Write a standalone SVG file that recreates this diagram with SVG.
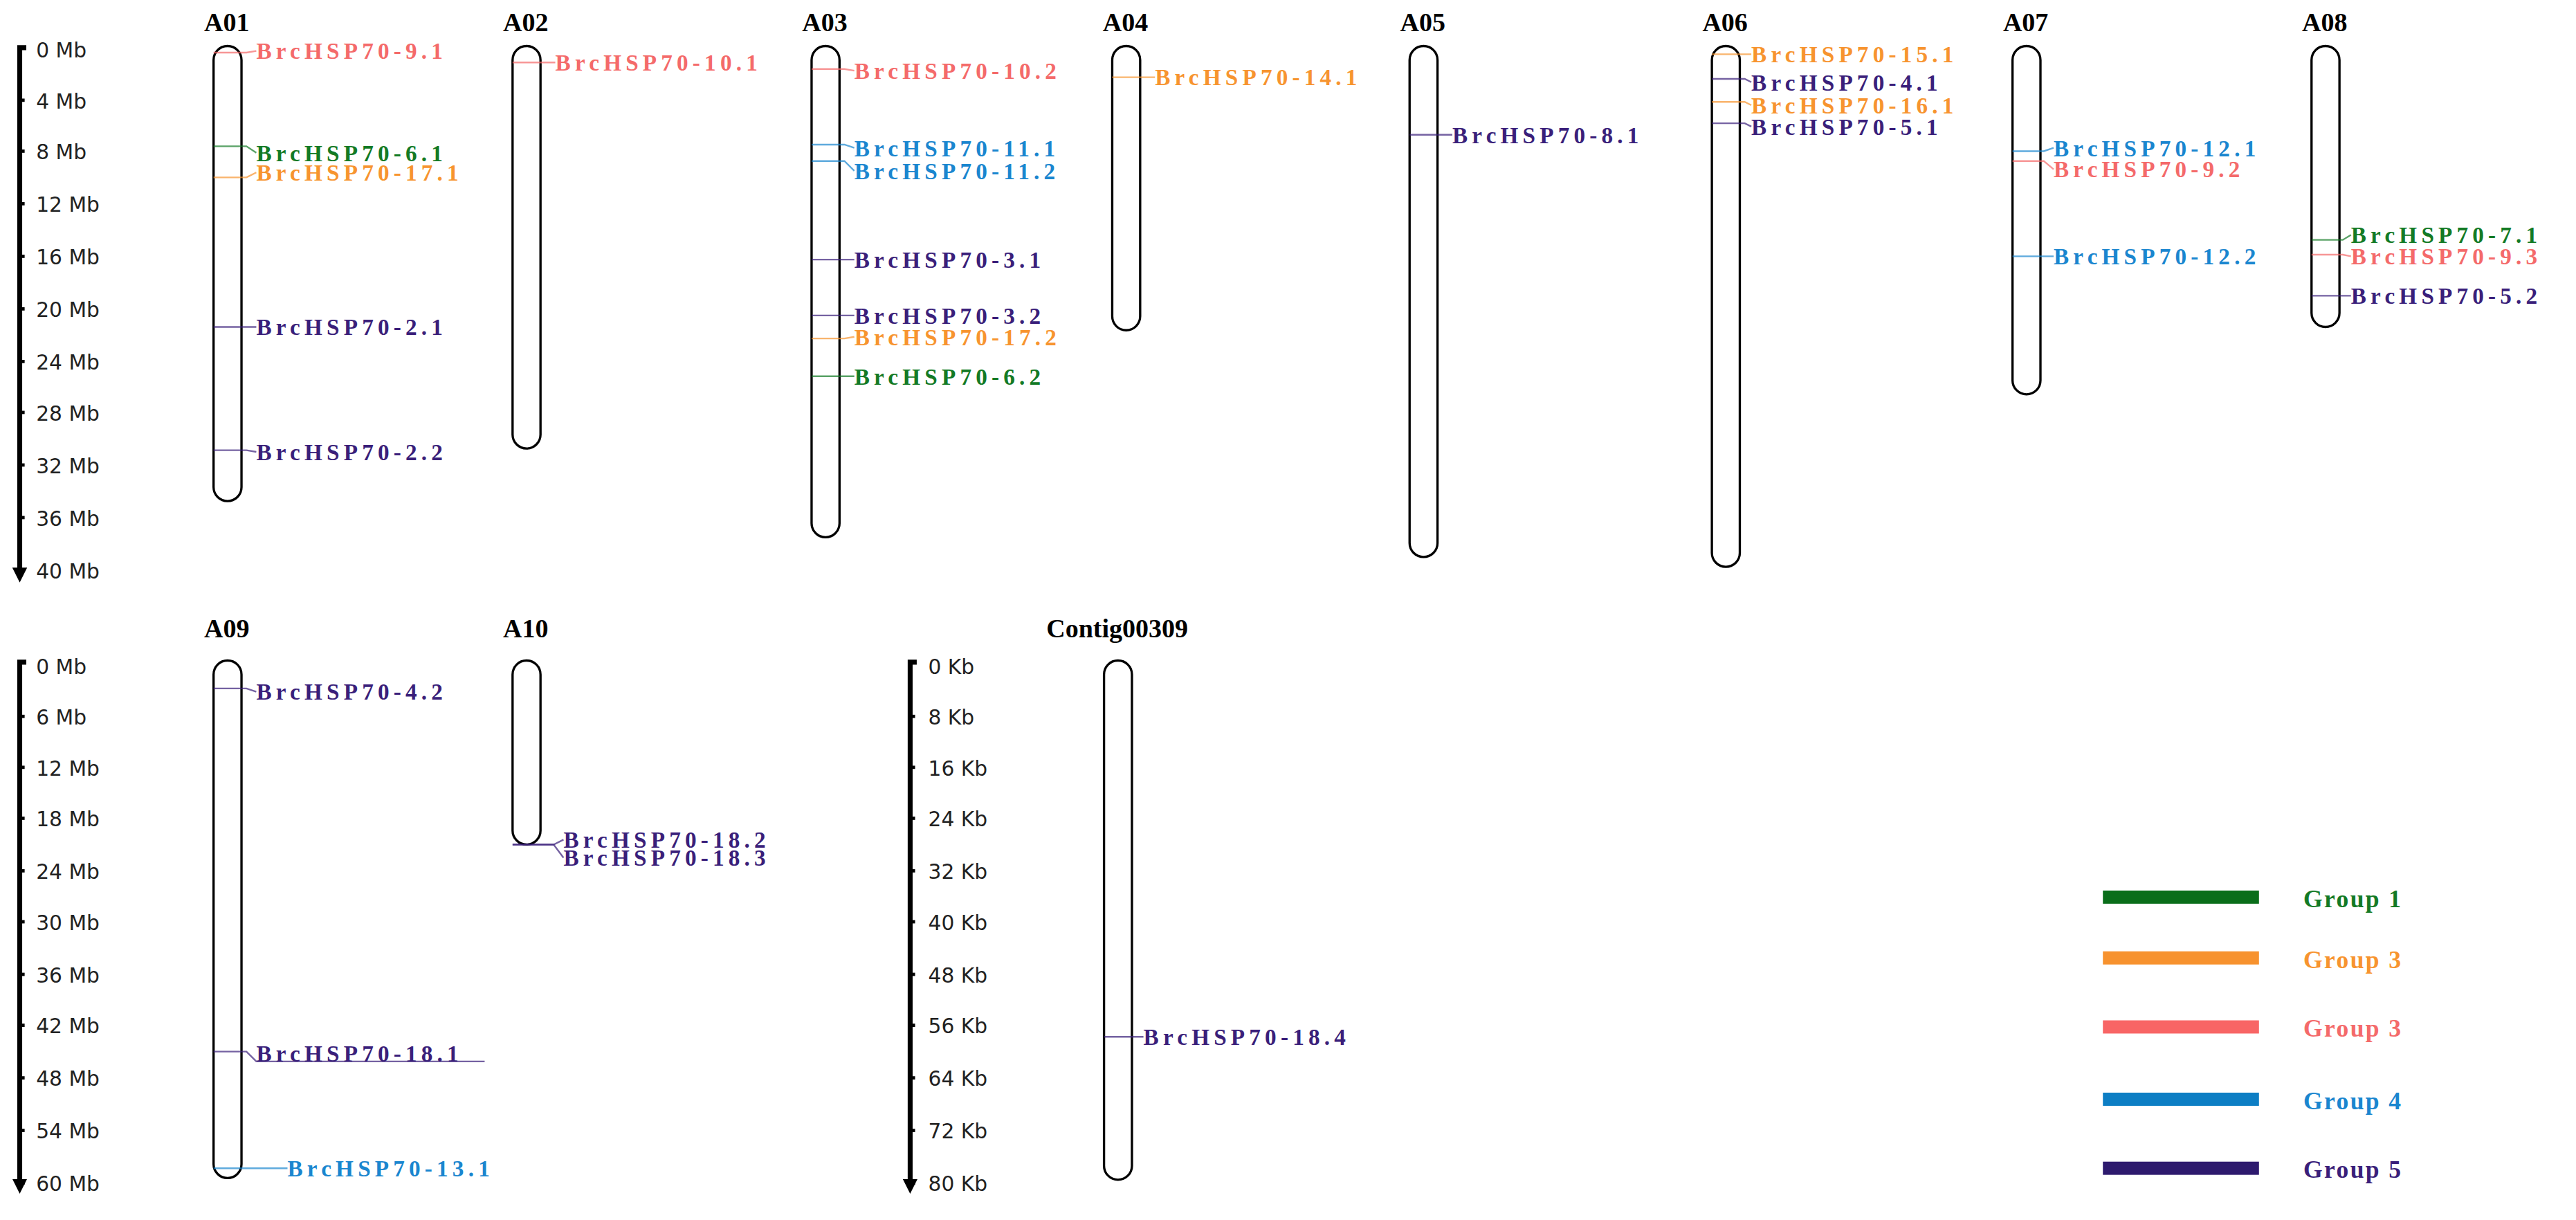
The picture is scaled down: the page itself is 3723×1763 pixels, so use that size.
<svg xmlns="http://www.w3.org/2000/svg" width="3723" height="1763" viewBox="0 0 3723 1763">
<style>
.ax{stroke:#000;stroke-width:3;fill:none}
.tk{stroke:#000;stroke-width:2}
.at{font-family:"DejaVu Sans",sans-serif;font-size:12.5px;fill:#222}
.ti{font-family:"Liberation Serif",serif;font-weight:bold;font-size:16px;fill:#000;text-anchor:middle}
.ch{fill:#fff;stroke:#000;stroke-width:1.4}
.lb{font-family:"Liberation Serif",serif;font-weight:bold;font-size:14px;letter-spacing:2.6px}
.ln{fill:none;stroke-width:1;opacity:0.7}
.r{fill:#f46a6a}.o{fill:#f7942f}.g{fill:#137a25}.b{fill:#1a86cf}.p{fill:#3a1f7a}
.lr{stroke:#f46a6a}.lo{stroke:#f7942f}.lg{stroke:#137a25}.lb2{stroke:#1a86cf}.lp{stroke:#3a1f7a}
</style>
<defs>
<marker id="arr" viewBox="0 0 10 10" refX="5" refY="5" markerWidth="3" markerHeight="3" orient="auto"><path d="M0,0 L10,5 L0,10 z" fill="#000"/></marker>
</defs>
<rect width="3723" height="1763" fill="#fff"/>
<g transform="scale(2.3744)">
<g id="axis1">
<path class="ax" d="M16,29 H12 V350" marker-end="url(#arr)"/>
<g class="tk"><line x1="12" y1="61" x2="15" y2="61"/><line x1="12" y1="92" x2="15" y2="92"/><line x1="12" y1="124" x2="15" y2="124"/><line x1="12" y1="156" x2="15" y2="156"/><line x1="12" y1="188" x2="15" y2="188"/><line x1="12" y1="220" x2="15" y2="220"/><line x1="12" y1="251" x2="15" y2="251"/><line x1="12" y1="283" x2="15" y2="283"/><line x1="12" y1="315" x2="15" y2="315"/><line x1="12" y1="347" x2="15" y2="347"/></g>
<g class="at"><text x="22" y="35">0 Mb</text><text x="22" y="66">4 Mb</text><text x="22" y="97">8 Mb</text><text x="22" y="129">12 Mb</text><text x="22" y="161">16 Mb</text><text x="22" y="193">20 Mb</text><text x="22" y="225">24 Mb</text><text x="22" y="256">28 Mb</text><text x="22" y="288">32 Mb</text><text x="22" y="320">36 Mb</text><text x="22" y="352">40 Mb</text></g>
</g>
<g id="axis2">
<path class="ax" d="M16,403 H12 V722" marker-end="url(#arr)"/>
<g class="tk"><line x1="12" y1="436" x2="15" y2="436"/><line x1="12" y1="467" x2="15" y2="467"/><line x1="12" y1="498" x2="15" y2="498"/><line x1="12" y1="530" x2="15" y2="530"/><line x1="12" y1="561" x2="15" y2="561"/><line x1="12" y1="593" x2="15" y2="593"/><line x1="12" y1="624" x2="15" y2="624"/><line x1="12" y1="656" x2="15" y2="656"/><line x1="12" y1="688" x2="15" y2="688"/><line x1="12" y1="720" x2="15" y2="720"/></g>
<g class="at"><text x="22" y="410">0 Mb</text><text x="22" y="441">6 Mb</text><text x="22" y="472">12 Mb</text><text x="22" y="503">18 Mb</text><text x="22" y="535">24 Mb</text><text x="22" y="566">30 Mb</text><text x="22" y="598">36 Mb</text><text x="22" y="629">42 Mb</text><text x="22" y="661">48 Mb</text><text x="22" y="693">54 Mb</text><text x="22" y="725">60 Mb</text></g>
</g>
<g id="axis3">
<path class="ax" d="M558,403 H554 V722" marker-end="url(#arr)"/>
<g class="tk"><line x1="554" y1="436" x2="557" y2="436"/><line x1="554" y1="467" x2="557" y2="467"/><line x1="554" y1="498" x2="557" y2="498"/><line x1="554" y1="530" x2="557" y2="530"/><line x1="554" y1="561" x2="557" y2="561"/><line x1="554" y1="593" x2="557" y2="593"/><line x1="554" y1="624" x2="557" y2="624"/><line x1="554" y1="656" x2="557" y2="656"/><line x1="554" y1="688" x2="557" y2="688"/><line x1="554" y1="720" x2="557" y2="720"/></g>
<g class="at"><text x="565" y="410">0 Kb</text><text x="565" y="441">8 Kb</text><text x="565" y="472">16 Kb</text><text x="565" y="503">24 Kb</text><text x="565" y="535">32 Kb</text><text x="565" y="566">40 Kb</text><text x="565" y="598">48 Kb</text><text x="565" y="629">56 Kb</text><text x="565" y="661">64 Kb</text><text x="565" y="693">72 Kb</text><text x="565" y="725">80 Kb</text></g>
</g>

<g id="A01"><text class="ti" x="138" y="19">A01</text><rect class="ch" x="130" y="28" width="17" height="277" rx="8.5"/></g>
<g id="A02"><text class="ti" x="320" y="19">A02</text><rect class="ch" x="312" y="28" width="17" height="245" rx="8.5"/></g>
<g id="A03"><text class="ti" x="502" y="19">A03</text><rect class="ch" x="494" y="28" width="17" height="299" rx="8.5"/></g>
<g id="A04"><text class="ti" x="685" y="19">A04</text><rect class="ch" x="677" y="28" width="17" height="173" rx="8.5"/></g>
<g id="A05"><text class="ti" x="866" y="19">A05</text><rect class="ch" x="858" y="28" width="17" height="311" rx="8.5"/></g>
<g id="A06"><text class="ti" x="1050" y="19">A06</text><rect class="ch" x="1042" y="28" width="17" height="317" rx="8.5"/></g>
<g id="A07"><text class="ti" x="1233" y="19">A07</text><rect class="ch" x="1225" y="28" width="17" height="212" rx="8.5"/></g>
<g id="A08"><text class="ti" x="1415" y="19">A08</text><rect class="ch" x="1407" y="28" width="17" height="171" rx="8.5"/></g>
<g id="A09"><text class="ti" x="138" y="388">A09</text><rect class="ch" x="130" y="402" width="17" height="315" rx="8.5"/></g>
<g id="A10"><text class="ti" x="320" y="388">A10</text><rect class="ch" x="312" y="402" width="17" height="112" rx="8.5"/></g>
<g id="Contig00309"><text class="ti" x="680" y="388">Contig00309</text><rect class="ch" x="672" y="402" width="17" height="316" rx="8.5"/></g>

<g id="connectors">
<polyline class="ln lr" points="130,32 150,32 156,31"/>
<polyline class="ln lg" points="130,89 150,89 156,93"/>
<polyline class="ln lo" points="130,108 150,108 156,105"/>
<polyline class="ln lp" points="130,199 150,199 156,199"/>
<polyline class="ln lp" points="130,274 150,274 156,275"/>
<polyline class="ln lr" points="312,38 332,38 338,38"/>
<polyline class="ln lr" points="494,42 514,42 520,43"/>
<polyline class="ln lb2" points="494,88 514,88 520,90"/>
<polyline class="ln lb2" points="494,98 514,98 520,104"/>
<polyline class="ln lp" points="494,158 514,158 520,158"/>
<polyline class="ln lp" points="494,192 514,192 520,192"/>
<polyline class="ln lo" points="494,206 514,206 520,205"/>
<polyline class="ln lg" points="494,229 520,229"/>
<polyline class="ln lo" points="677,47 703,47"/>
<polyline class="ln lp" points="858,82 884,82"/>
<polyline class="ln lo" points="1042,33 1062,33 1066,33"/>
<polyline class="ln lp" points="1042,48 1062,48 1066,50"/>
<polyline class="ln lo" points="1042,62 1062,62 1066,64"/>
<polyline class="ln lp" points="1042,75 1062,75 1066,77"/>
<polyline class="ln lb2" points="1225,92 1244,92 1250,90"/>
<polyline class="ln lr" points="1225,98 1244,98 1250,103"/>
<polyline class="ln lb2" points="1225,156 1250,156"/>
<polyline class="ln lg" points="1407,146 1426,146 1431,143"/>
<polyline class="ln lr" points="1407,155 1426,155 1431,156"/>
<polyline class="ln lp" points="1407,180 1431,180"/>
<polyline class="ln lp" points="130,419 150,419 156,421"/>
<polyline class="ln lp" points="130,640 150,640 156,646 295,646"/>
<polyline class="ln lb2" points="130,711 175,711"/>
<polyline class="ln lp" points="312,514 337,514 343,511"/>
<polyline class="ln lp" points="312,514 337,514 343,522"/>
<polyline class="ln lp" points="672,631 696,631"/>
</g>

<g id="labels" class="lb">
<text class="r" x="156" y="36">BrcHSP70-9.1</text>
<text class="g" x="156" y="98">BrcHSP70-6.1</text>
<text class="o" x="156" y="110">BrcHSP70-17.1</text>
<text class="p" x="156" y="204">BrcHSP70-2.1</text>
<text class="p" x="156" y="280">BrcHSP70-2.2</text>
<text class="r" x="338" y="43">BrcHSP70-10.1</text>
<text class="r" x="520" y="48">BrcHSP70-10.2</text>
<text class="b" x="520" y="95">BrcHSP70-11.1</text>
<text class="b" x="520" y="109">BrcHSP70-11.2</text>
<text class="p" x="520" y="163">BrcHSP70-3.1</text>
<text class="p" x="520" y="197">BrcHSP70-3.2</text>
<text class="o" x="520" y="210">BrcHSP70-17.2</text>
<text class="g" x="520" y="234">BrcHSP70-6.2</text>
<text class="o" x="703" y="52">BrcHSP70-14.1</text>
<text class="p" x="884" y="87">BrcHSP70-8.1</text>
<text class="o" x="1066" y="38">BrcHSP70-15.1</text>
<text class="p" x="1066" y="55">BrcHSP70-4.1</text>
<text class="o" x="1066" y="69">BrcHSP70-16.1</text>
<text class="p" x="1066" y="82">BrcHSP70-5.1</text>
<text class="b" x="1250" y="95">BrcHSP70-12.1</text>
<text class="r" x="1250" y="108">BrcHSP70-9.2</text>
<text class="b" x="1250" y="161">BrcHSP70-12.2</text>
<text class="g" x="1431" y="148">BrcHSP70-7.1</text>
<text class="r" x="1431" y="161">BrcHSP70-9.3</text>
<text class="p" x="1431" y="185">BrcHSP70-5.2</text>
<text class="p" x="156" y="426">BrcHSP70-4.2</text>
<text class="p" x="156" y="646">BrcHSP70-18.1</text>
<text class="b" x="175" y="716">BrcHSP70-13.1</text>
<text class="p" x="343" y="516">BrcHSP70-18.2</text>
<text class="p" x="343" y="527">BrcHSP70-18.3</text>
<text class="p" x="696" y="636">BrcHSP70-18.4</text>
</g>

<g id="legend" class="lb">
<rect x="1280" y="542" width="95" height="8" fill="#0a6e1a"/>
<rect x="1280" y="579" width="95" height="8" fill="#f7922e"/>
<rect x="1280" y="621" width="95" height="8" fill="#f86565"/>
<rect x="1280" y="665" width="95" height="8" fill="#0d7ec4"/>
<rect x="1280" y="707" width="95" height="8" fill="#2e1a6e"/>
<text class="g" x="1402" y="552" style="font-size:15px;letter-spacing:1px">Group 1</text>
<text class="o" x="1402" y="589" style="font-size:15px;letter-spacing:1px">Group 3</text>
<text class="r" x="1402" y="631" style="font-size:15px;letter-spacing:1px">Group 3</text>
<text class="b" x="1402" y="675" style="font-size:15px;letter-spacing:1px">Group 4</text>
<text class="p" x="1402" y="717" style="font-size:15px;letter-spacing:1px">Group 5</text>
</g>
</g>
</svg>
